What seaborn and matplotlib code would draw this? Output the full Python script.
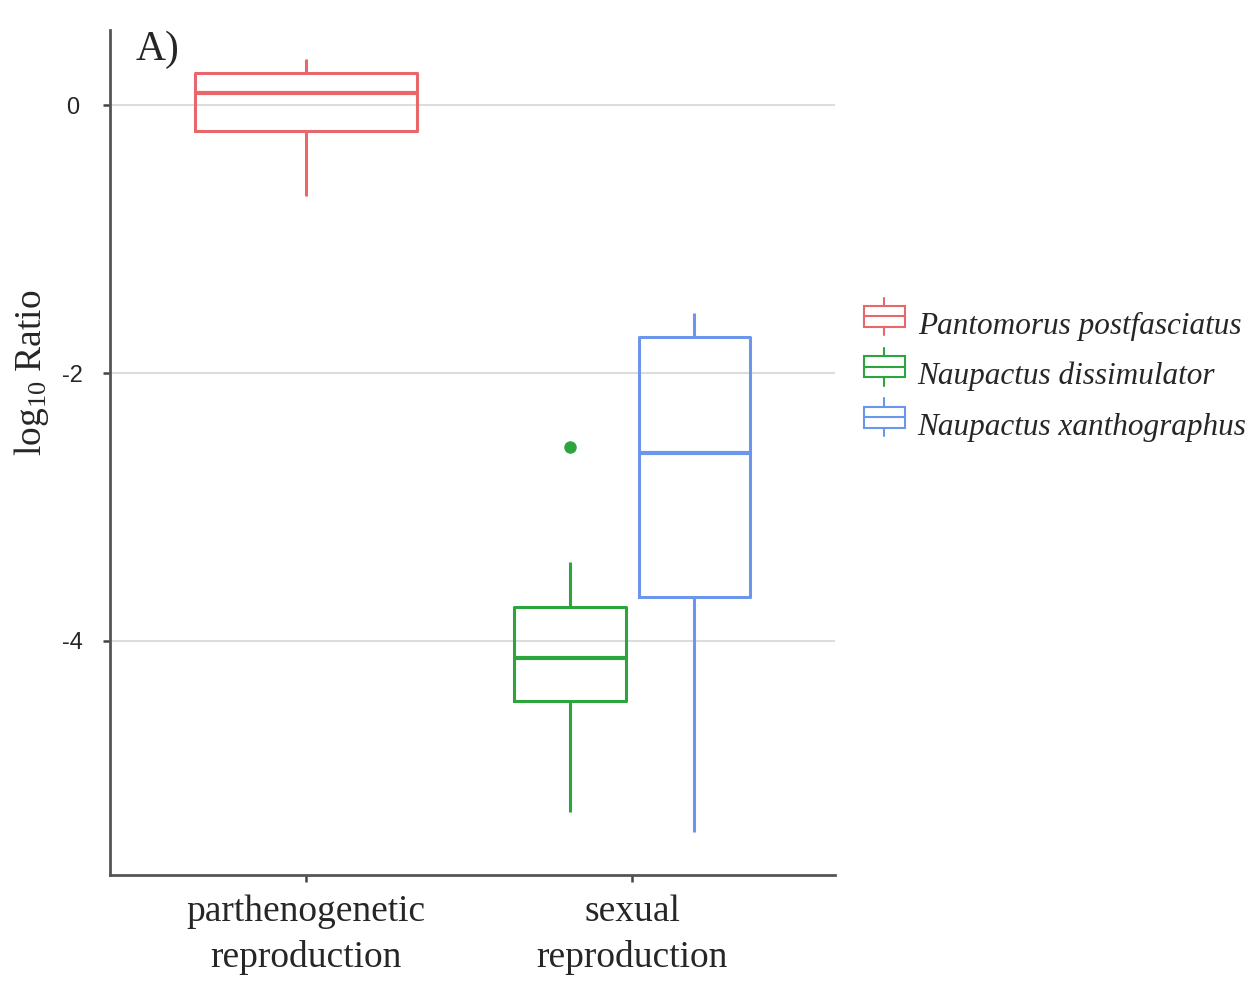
import pandas as pd
import matplotlib.pyplot as plt
import seaborn as sns
from matplotlib.legend_handler import HandlerBase
from matplotlib.lines import Line2D
from matplotlib.patches import Rectangle

# Data (log10 ratio per species)
categories = ['parthenogenetic\nreproduction', 'sexual\nreproduction']
species = ['Pantomorus postfasciatus', 'Naupactus dissimulator', 'Naupactus xanthographus']
colors = ['#E8676A', '#2BA53C', '#6A97EC']

pantomorus = [-0.68, -0.40, -0.19, -0.05, 0.09, 0.15, 0.24, 0.30, 0.35]
dissimulator = [-5.28, -4.80, -4.45, -4.30, -4.13, -3.95, -3.75, -3.41, -2.55]
xanthographus = [-5.43, -4.50, -3.67, -3.10, -2.60, -2.20, -1.73, -1.62, -1.55]

y_ticks = [0, -2, -4]

df_parth = pd.DataFrame({'repro': categories[0], 'species': species[0], 'value': pantomorus})
df_sex = pd.concat([
    pd.DataFrame({'repro': categories[1], 'species': species[1], 'value': dissimulator}),
    pd.DataFrame({'repro': categories[1], 'species': species[2], 'value': xanthographus}),
])

sns.set_style('white')
plt.rcParams['mathtext.fontset'] = 'custom'
plt.rcParams['mathtext.rm'] = 'Liberation Serif'
plt.rcParams['mathtext.default'] = 'regular'

fig = plt.figure(figsize=(12.54, 9.81), dpi=100)
ax = fig.add_axes([0.0877, 0.108, 0.578, 0.861])

box_kw = dict(fill=False, linewidth=2.2, fliersize=9,
              medianprops=dict(linewidth=3),
              flierprops=dict(marker='o', markeredgewidth=0),
              showcaps=False)

# single species in the parthenogenetic group takes the full slot
sns.boxplot(data=df_parth, x='repro', y='value', order=categories,
            color=colors[0], width=0.68, ax=ax, **box_kw)
# two species dodged in the sexual group
sns.boxplot(data=df_sex, x='repro', y='value', order=categories,
            hue='species', hue_order=species[1:], palette=colors[1:],
            dodge=True, width=0.76, gap=0.1, legend=False, ax=ax, **box_kw)

# flier colours follow their box
for cont in ax.containers:
    for i, fl in enumerate(cont.fliers):
        c = cont.whiskers[2 * i].get_color()
        fl.set_markerfacecolor(c)
        fl.set_markeredgecolor(c)

ax.set_xlim(-0.6, 1.62)
ax.set_ylim(-5.75, 0.56)
ax.set_yticks(y_ticks)
ax.set_yticklabels([str(t) for t in y_ticks], family='Liberation Sans', fontsize=17, ha='center')
ax.yaxis.grid(True, color='#DCDCDC', linewidth=1.5)
ax.set_axisbelow(True)
ax.tick_params(axis='both', length=5, width=1.8, color='#444444', left=True, bottom=True)
ax.tick_params(axis='y', pad=22)
ax.tick_params(axis='x', pad=9)
for lab in ax.get_xticklabels():
    lab.set_family('Liberation Serif')
    lab.set_fontsize(27)
    lab.set_linespacing(1.4)
ax.set_xlabel('')
ax.set_ylabel('log$_{10}$ Ratio', family='Liberation Serif', fontsize=27)
ax.yaxis.set_label_coords(-0.082, 0.595)
sns.despine(ax=ax)
for side in ['left', 'bottom']:
    ax.spines[side].set_color('#555555')
    ax.spines[side].set_linewidth(2)

ax.text(0.035, 1.0, 'A)', transform=ax.transAxes, family='Liberation Serif',
        fontsize=30, va='top', ha='left')


class BoxHandler(HandlerBase):
    def create_artists(self, legend, orig_handle, xd, yd, width, height, fontsize, trans):
        c = orig_handle.get_edgecolor()
        cx = xd + width / 2
        bw = width * 0.92
        bh = height * 0.75
        y0 = yd + height / 2 - bh / 2
        box = Rectangle((cx - bw / 2, y0), bw, bh, facecolor='white', edgecolor=c,
                        linewidth=1.5, transform=trans)
        med = Line2D([cx - bw / 2, cx + bw / 2], [y0 + bh / 2] * 2, color=c, lw=1.5, transform=trans)
        w1 = Line2D([cx, cx], [y0 + bh, y0 + bh + height * 0.3], color=c, lw=1.5, transform=trans)
        w2 = Line2D([cx, cx], [y0, y0 - height * 0.3], color=c, lw=1.5, transform=trans)
        return [box, med, w1, w2]


handles = [Rectangle((0, 0), 1, 1, facecolor='white', edgecolor=c) for c in colors]
ax.legend(handles, species, handler_map={Rectangle: BoxHandler()},
          loc='upper left', bbox_to_anchor=(1.02, 0.685), frameon=False, borderaxespad=0,
          prop={'family': 'Liberation Serif', 'style': 'italic', 'size': 22.5},
          handlelength=1.44, handleheight=1.0, handletextpad=0.35, labelspacing=0.6)

fig.savefig('out.png', dpi=100)
